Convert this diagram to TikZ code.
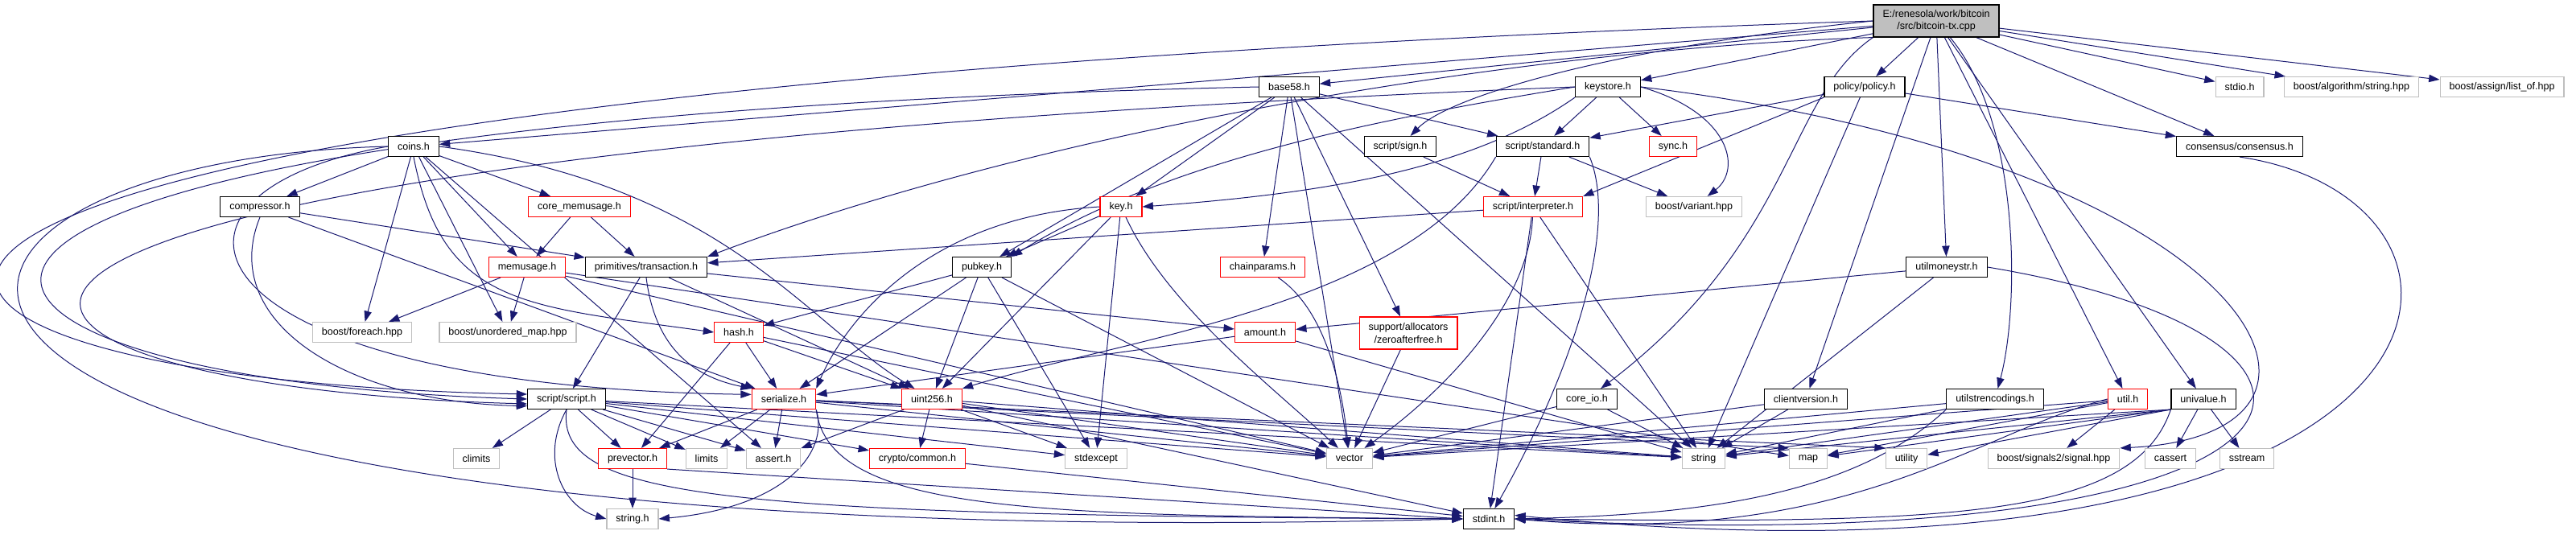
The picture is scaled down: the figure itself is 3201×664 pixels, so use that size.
\documentclass[tikz,border=0pt]{standalone}
\usepackage{fontspec}
\setmainfont{Liberation Sans}
\usetikzlibrary{arrows.meta, backgrounds}
\definecolor{edgeblue}{HTML}{191970}
\definecolor{extgray}{HTML}{BFBFBF}

\begin{document}
\begin{tikzpicture}[
  x=0.75pt, y=-0.75pt,
  hdr/.style={draw=black, fill=white, line width=0.85pt, rectangle, inner xsep=8.6pt, inner ysep=2pt, minimum height=18.75pt, align=center, font=\fontsize{9.4}{11.5}\selectfont},
  hdrtrunc/.style={hdr, draw=red},
  hdrext/.style={hdr, draw=extgray},
  hdrmain/.style={hdr, fill=extgray},
  dep/.style={draw=edgeblue, line width=0.75pt, -{Triangle[length=10pt,width=7pt]}}
]
  \useasboundingbox (0,0) rectangle (3201,664);

  \node[hdrmain, minimum height=30pt] (txcpp) at (2406,26) {E:/renesola/work/bitcoin\\/src/bitcoin-tx.cpp};
  \node[hdr]      (base58)       at (1602,108) {base58.h};
  \node[hdr]      (keystore)     at (1998,108) {keystore.h};
  \node[hdr]      (policy)       at (2317,108) {policy/policy.h};
  \node[hdrext]   (stdio)        at (2783,108) {stdio.h};
  \node[hdrext]   (algostr)      at (2922,108) {boost/algorithm/string.hpp};
  \node[hdrext]   (listof)       at (3109,108) {boost/assign/list\_of.hpp};
  \node[hdr]      (coins)        at (514,182)  {coins.h};
  \node[hdr]      (sign)         at (1740,182) {script/sign.h};
  \node[hdr]      (standard)     at (1917,182) {script/standard.h};
  \node[hdrtrunc] (sync)         at (2079,182) {sync.h};
  \node[hdr]      (consensus)    at (2783,182) {consensus/consensus.h};
  \node[hdr]      (compressor)   at (323,257)  {compressor.h};
  \node[hdrtrunc] (corememusage) at (720,257)  {core\_memusage.h};
  \node[hdrtrunc] (key)          at (1393,257) {key.h};
  \node[hdrtrunc] (interpreter)  at (1905,257) {script/interpreter.h};
  \node[hdrext]   (variant)      at (2105,257) {boost/variant.hpp};
  \node[hdrtrunc] (memusage)     at (655,332)  {memusage.h};
  \node[hdr]      (transaction)  at (803,332)  {primitives/transaction.h};
  \node[hdr]      (pubkey)       at (1220,332) {pubkey.h};
  \node[hdrtrunc] (chainparams)  at (1569,332) {chainparams.h};
  \node[hdr]      (moneystr)     at (2419,332) {utilmoneystr.h};
  \node[hdrext]   (foreach)      at (450,413)  {boost/foreach.hpp};
  \node[hdrext]   (unorderedmap) at (631,413)  {boost/unordered\_map.hpp};
  \node[hdrtrunc] (hash)         at (918,413)  {hash.h};
  \node[hdrtrunc] (amount)       at (1572,413) {amount.h};
  \node[hdrtrunc, minimum height=30pt] (zeroafter) at (1750,414) {support/allocators\\/zeroafterfree.h};
  \node[hdr]      (script)       at (704,496)  {script/script.h};
  \node[hdrtrunc] (serialize)    at (974,496)  {serialize.h};
  \node[hdrtrunc] (uint256)      at (1158,496) {uint256.h};
  \node[hdr]      (coreio)       at (1972,496) {core\_io.h};
  \node[hdr]      (clientver)    at (2244,496) {clientversion.h};
  \node[hdr]      (strenc)       at (2479,496) {utilstrencodings.h};
  \node[hdrtrunc] (util)         at (2644,496) {util.h};
  \node[hdr]      (univalue)     at (2738,496) {univalue.h};
  \node[hdrext]   (climits)      at (592,570)  {climits};
  \node[hdrtrunc] (prevector)    at (786,570)  {prevector.h};
  \node[hdrext]   (limits)       at (878,570)  {limits};
  \node[hdrext]   (assert)       at (961,570)  {assert.h};
  \node[hdrtrunc] (cryptocommon) at (1140,570) {crypto/common.h};
  \node[hdrext]   (stdexcept)    at (1362,570) {stdexcept};
  \node[hdrext]   (vector)       at (1677,570) {vector};
  \node[hdrext]   (string)       at (2117,570) {string};
  \node[hdrext]   (map)          at (2247,570) {map};
  \node[hdrext]   (utility)      at (2369,570) {utility};
  \node[hdrext]   (signal)       at (2552,570) {boost/signals2/signal.hpp};
  \node[hdrext]   (cassert)      at (2697,570) {cassert};
  \node[hdrext]   (sstream)      at (2792,570) {sstream};
  \node[hdrext]   (stringh)      at (786,645)  {string.h};
  \node[hdr]      (stdint)       at (1850,645) {stdint.h};

  \begin{scope}[on background layer]
  \draw[dep] (txcpp) -- (base58);
  \draw[dep] (txcpp) -- (keystore);
  \draw[dep] (txcpp) -- (policy);
  \draw[dep] (txcpp) -- (stdio);
  \draw[dep] (txcpp) -- (algostr);
  \draw[dep] (txcpp) -- (listof);
  \draw[dep] (txcpp) -- (coins);
  \draw[dep] (txcpp) -- (consensus);
  \draw[dep] (txcpp.south west) .. controls (2220,120) and (2230,300) .. (coreio);
  \draw[dep] (txcpp) -- (clientver);
  \draw[dep] (txcpp) -- (moneystr);
  \draw[dep] (txcpp) .. controls (2510,150) and (2510,380) .. (strenc);
  \draw[dep] (txcpp) -- (util);
  \draw[dep] (txcpp) -- (univalue);
  \draw[dep] (txcpp.west) .. controls (2000,60) and (1800,120) .. (sign);
  \draw[dep] (txcpp.south west) .. controls (1900,60) and (1300,160) .. (transaction.north east);
  \draw[dep] (txcpp.west) .. controls (-520,120) and (-330,470) .. (script.173);

  \draw[dep] (base58) -- (key);
  \draw[dep] (base58) -- (chainparams);
  \draw[dep] (base58) -- (pubkey);
  \draw[dep] (base58) -- (standard);
  \draw[dep] (base58) -- (zeroafter);
  \draw[dep] (base58) -- (vector);
  \draw[dep] (base58) -- (string);
  \draw[dep] (base58.west) .. controls (-330,150) and (-210,470) .. (script.west);

  \draw[dep] (keystore.south west) .. controls (1830,210) and (1650,240) .. (key.east);
  \draw[dep] (keystore.west) .. controls (1700,150) and (1450,200) .. (pubkey.north east);
  \draw[dep] (keystore) -- (standard);
  \draw[dep] (keystore) -- (sync);
  \draw[dep] (keystore.east) .. controls (2150,140) and (2165,210) .. (variant);
  \draw[dep] (keystore.east) .. controls (2800,200) and (2980,540) .. (signal.north east);
  \draw[dep] (keystore.west) .. controls (-360,200) and (-140,480) .. (script.187);

  \draw[dep] (policy) -- (consensus);
  \draw[dep] (policy) -- (standard);
  \draw[dep] (policy.south west) -- (interpreter.north east);
  \draw[dep] (policy) -- (string);

  \draw[dep] (coins) -- (compressor);
  \draw[dep] (coins) -- (corememusage);
  \draw[dep] (coins) -- (memusage);
  \draw[dep] (coins) -- (foreach);
  \draw[dep] (coins) -- (unorderedmap);
  \draw[dep] (coins.south) .. controls (550,380) and (650,380) .. (hash.west);
  \draw[dep] (coins.west) .. controls (150,240) and (220,480) .. (serialize.172);
  \draw[dep] (coins.east) .. controls (900,230) and (1000,400) .. (uint256);
  \draw[dep] (coins) -- (assert);
  \draw[dep] (coins.west) .. controls (-230,200) and (-340,700) .. (stdint.west);

  \draw[dep] (compressor) -- (transaction);
  \draw[dep] (compressor.south) .. controls (270,400) and (430,500) .. (script.190);
  \draw[dep] (compressor) -- (serialize);

  \draw[dep] (corememusage) -- (memusage);
  \draw[dep] (corememusage) -- (transaction);

  \draw[dep] (key) -- (pubkey);
  \draw[dep] (key.west) .. controls (1150,270) and (1050,400) .. (serialize.north east);
  \draw[dep] (key) -- (uint256);
  \draw[dep] (key) -- (stdexcept);
  \draw[dep] (key) .. controls (1450,380) and (1580,480) .. (vector);

  \draw[dep] (pubkey) -- (hash);
  \draw[dep] (pubkey) -- (serialize);
  \draw[dep] (pubkey) -- (uint256);
  \draw[dep] (pubkey) -- (stdexcept);
  \draw[dep] (pubkey) -- (vector);

  \draw[dep] (chainparams) .. controls (1640,380) and (1665,460) .. (vector);

  \draw[dep] (sign) -- (interpreter);
  \draw[dep] (standard) -- (interpreter);
  \draw[dep] (standard) -- (variant);
  \draw[dep] (standard.south west) .. controls (1750,380) and (1400,420) .. (uint256.north east);
  \draw[dep] (standard.south east) .. controls (2010,280) and (1960,450) .. (stdint);
  \draw[dep] (interpreter) -- (transaction);
  \draw[dep] (interpreter) .. controls (1900,380) and (1790,490) .. (vector);
  \draw[dep] (interpreter) -- (stdint);
  \draw[dep] (interpreter) -- (string);

  \draw[dep] (memusage) -- (foreach);
  \draw[dep] (memusage) -- (unorderedmap);
  \draw[dep] (memusage) -- (vector);
  \draw[dep] (memusage) -- (map);

  \draw[dep] (transaction) -- (amount);
  \draw[dep] (transaction) -- (script);
  \draw[dep] (transaction.south) .. controls (815,440) and (870,470) .. (serialize.north west);
  \draw[dep] (transaction) -- (uint256);

  \draw[dep] (hash) -- (prevector);
  \draw[dep] (hash) -- (serialize);
  \draw[dep] (hash) -- (uint256);
  \draw[dep] (hash) -- (vector);

  \draw[dep] (amount) -- (serialize);
  \draw[dep] (amount) -- (string);
  \draw[dep] (moneystr) -- (amount);
  \draw[dep] (moneystr) -- (string);
  \draw[dep] (moneystr.east) .. controls (3000,420) and (2950,700) .. (stdint.east);
  \draw[dep] (consensus.south) .. controls (3150,250) and (3100,760) .. (stdint.8);
  \draw[dep] (zeroafter) -- (vector);

  \draw[dep] (script) -- (climits);
  \draw[dep] (script) -- (prevector);
  \draw[dep] (script) -- (limits);
  \draw[dep] (script) -- (assert);
  \draw[dep] (script) -- (cryptocommon);
  \draw[dep] (script) -- (stdexcept);
  \draw[dep] (script) -- (vector);
  \draw[dep] (script) -- (string);
  \draw[dep] (script.south) .. controls (670,570) and (700,630) .. (stringh.west);
  \draw[dep] (script.south) .. controls (690,620) and (900,640) .. (stdint.west);

  \draw[dep] (serialize) -- (prevector);
  \draw[dep] (serialize) -- (limits);
  \draw[dep] (serialize) -- (assert);
  \draw[dep] (serialize.south east) .. controls (1030,560) and (980,630) .. (stringh.east);
  \draw[dep] (serialize) -- (map.north west);
  \draw[dep] (serialize) -- (string);
  \draw[dep] (serialize) -- (utility.north west);
  \draw[dep] (serialize) -- (vector);
  \draw[dep] (serialize.south east) .. controls (1030,640) and (1300,640) .. (stdint.west);

  \draw[dep] (uint256) -- (cryptocommon);
  \draw[dep] (uint256) -- (assert);
  \draw[dep] (uint256) -- (stdexcept);
  \draw[dep] (uint256) -- (stdint);
  \draw[dep] (uint256) -- (string);
  \draw[dep] (uint256) -- (vector);

  \draw[dep] (prevector) -- (stringh);
  \draw[dep] (prevector.south east) -- (stdint.west);
  \draw[dep] (cryptocommon) -- (stdint);

  \draw[dep] (coreio) -- (string);
  \draw[dep] (coreio) -- (vector);
  \draw[dep] (clientver) -- (string);
  \draw[dep] (clientver) -- (vector);
  \draw[dep] (strenc.south west) .. controls (2300,620) and (2100,640) .. (stdint.east);
  \draw[dep] (strenc) -- (string);
  \draw[dep] (strenc) -- (vector);
  \draw[dep] (util) -- (map);
  \draw[dep] (util) -- (string);
  \draw[dep] (util) -- (vector);
  \draw[dep] (util) -- (signal);
  \draw[dep] (util.west) .. controls (2450,540) and (2300,680) .. (stdint.east);
  \draw[dep] (univalue) -- (cassert);
  \draw[dep] (univalue) -- (sstream);
  \draw[dep] (univalue.south west) -- (utility);
  \draw[dep] (univalue.south west) -- (map);
  \draw[dep] (univalue.south west) -- (string);
  \draw[dep] (univalue.south west) -- (vector);
  \draw[dep] (univalue.south west) .. controls (2650,650) and (2400,650) .. (stdint.east);
  \end{scope}
\end{tikzpicture}
\end{document}
